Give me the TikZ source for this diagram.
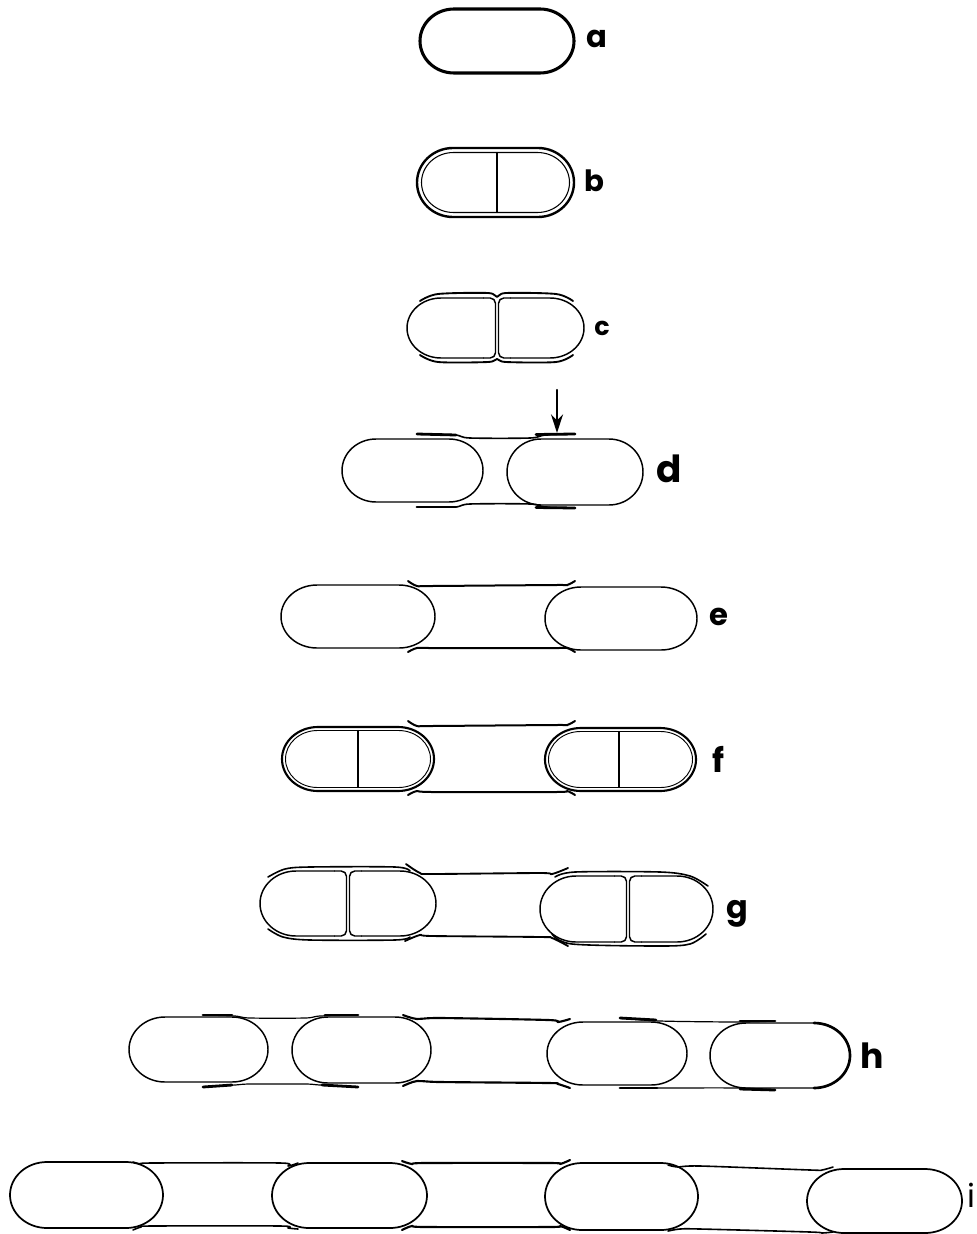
\documentclass[tikz,border=0pt]{standalone}
\usepackage{fontspec}
\newfontfamily\lblfont{Poppins}
\usetikzlibrary{arrows.meta}
% whole cell with oval ends: #1 style, #2 left x, #3 top y, #4 right x, #5 bottom y, #6 end depth
\newcommand\capsule[6][]{%
  \draw[#1] ({#2+#6},#3) -- ({#4-#6},#3)
    arc[start angle=-90, end angle=90, x radius=#6, y radius={(#5-#3)/2}]
    -- ({#2+#6},#5)
    arc[start angle=90, end angle=270, x radius=#6, y radius={(#5-#3)/2}] -- cycle;}
% left half of a dividing cell: #2 outer x, #3 inner-edge x, #4 top y, #5 bottom y, #6 end depth
\newcommand\lefthalf[6][]{%
  \draw[#1] ({#3-12},#4) -- ({#2+#6},#4)
    arc[start angle=270, end angle=90, x radius=#6, y radius={(#5-#4)/2}]
    -- ({#3-12},#5);
  \draw[#1, rounded corners=4pt] ({#3-12},#4) -- (#3,#4) -- (#3,#5) -- ({#3-12},#5);}
% right half of a dividing cell: #2 outer x, #3 inner-edge x, #4 top y, #5 bottom y, #6 end depth
\newcommand\righthalf[6][]{%
  \draw[#1] ({#3+12},#4) -- ({#2-#6},#4)
    arc[start angle=-90, end angle=90, x radius=#6, y radius={(#5-#4)/2}]
    -- ({#3+12},#5);
  \draw[#1, rounded corners=4pt] ({#3+12},#4) -- (#3,#4) -- (#3,#5) -- ({#3+12},#5);}
\begin{document}
\begin{tikzpicture}[x=0.75pt,y=-0.75pt,line cap=round,line join=round,
  cellline/.style={line width=1.1pt},
  heavycell/.style={line width=2.3pt},
  wall/.style={line width=1.2pt},
  stub/.style={line width=2.1pt},
  lbl/.style={font=\lblfont\bfseries, anchor=base west, inner sep=0pt},
  wallcurve/.style={smooth,tension=0.5}]
\useasboundingbox (0,0) rectangle (977,1234);
\clip (0,0) rectangle (977,1234);

% ---- a: single cell
\capsule[heavycell]{420}{9}{574}{73}{34}
\node[lbl, font=\lblfont\bfseries\fontsize{23}{23}\selectfont] (la) at (586,48) {a};

% ---- b: septum forming inside a double wall
\capsule[line width=1.8pt]{417}{148}{574}{217}{36}
\capsule[line width=0.8pt]{421.5}{152.5}{569.5}{212.5}{32}
\draw[line width=0.8pt] (497,152.5) -- (497,212.5);
\node[lbl, font=\lblfont\bfseries\fontsize{22}{22}\selectfont] (lb) at (584,191) {b};

% ---- c: two daughter cells inside the outer wall
\lefthalf[cellline]{407}{495.5}{298}{358}{34}
\righthalf[cellline]{584}{498.5}{298}{358}{34}
\draw[wall, line width=1.4pt] plot[wallcurve] coordinates {(420,301) (438,294) (488,293) (497,297) (506,293) (556,294) (573,301)};
\draw[wall, line width=1.4pt] plot[wallcurve] coordinates {(420,355) (438,362) (488,362) (497,359) (506,362) (556,362) (573,355)};
\node[lbl, font=\lblfont\bfseries\fontsize{19}{19}\selectfont] (lc) at (594,335) {c};

% ---- d: cells separating, arrow at the wall
\capsule[cellline]{342}{439}{483}{502}{34}
\capsule[cellline]{507}{439}{643}{505}{34}
\draw[wall] plot[wallcurve] coordinates {(417,434) (455,435) (470,438) (530,438) (545,435) (575,434)};
\draw[wall] plot[wallcurve] coordinates {(417,507) (455,507) (470,504) (530,504) (545,507) (575,508)};
\draw[stub] (417,434) -- (456,435);
\draw[stub] (536,434.5) -- (575,434);
\draw[stub] (417,507) -- (456,507);
\draw[stub] (536,507.5) -- (575,508);
\coordinate (dtail) at (557,390);
\coordinate (dhead) at (557,433);
\draw[line width=1.7pt, -{Stealth[length=14pt,width=9pt]}] (dtail) -- (dhead);
\node[lbl, font=\lblfont\bfseries\fontsize{28}{28}\selectfont] (ld) at (656,482) {d};

% ---- e
\capsule[cellline]{281}{585}{435}{648}{36}
\capsule[cellline]{545}{587}{697}{650}{36}
\draw[wall, line width=1.5pt] plot[wallcurve] coordinates {(408,581) (417,586) (432,586) (556,585) (567,585) (575,581)};
\draw[wall, line width=1.5pt] plot[wallcurve] coordinates {(408,652) (417,648) (432,648) (556,648) (567,648) (575,652)};
\node[lbl, font=\lblfont\bfseries\fontsize{23}{23}\selectfont] (le) at (709,625) {e};

% ---- f: septa forming in both cells
\capsule[line width=1.6pt]{282}{727}{434}{791}{36}
\capsule[line width=0.7pt]{285.5}{730.5}{430.5}{787.5}{32}
\draw[line width=0.8pt] (358,730.5) -- (358,787.5);
\capsule[line width=1.6pt]{545}{728}{696}{791}{36}
\capsule[line width=0.7pt]{548.5}{731.5}{692.5}{787.5}{32}
\draw[line width=0.8pt] (619,731.5) -- (619,787.5);
\draw[wall, line width=1.5pt] plot[wallcurve] coordinates {(408,721) (417,726) (432,726) (556,725) (567,725) (575,721)};
\draw[wall, line width=1.5pt] plot[wallcurve] coordinates {(408,795) (417,791) (432,792) (556,792) (567,791) (575,795)};
\node[lbl, font=\lblfont\bfseries\fontsize{25}{25}\selectfont] (lf) at (712,772) {f};

% ---- g: both cells divided
\lefthalf[cellline]{260}{346.5}{871}{936}{36}
\righthalf[cellline]{436}{349.5}{871}{936}{36}
\lefthalf[cellline]{540}{626.5}{876}{942}{36}
\righthalf[cellline]{713}{629.5}{876}{942}{36}
\draw[wall] plot[wallcurve] coordinates {(268,877) (285,869) (310,867) (395,867) (410,871)};
\draw[wall] plot[wallcurve] coordinates {(268,929) (283,937) (310,940) (395,940) (410,937)};
\draw[wall] plot[wallcurve] coordinates {(555,877) (575,872) (660,872) (690,876) (708,886)};
\draw[wall] plot[wallcurve] coordinates {(552,934) (572,944) (660,946) (690,944) (706,934)};
\draw[wall, line width=1.4pt] plot[wallcurve] coordinates {(406,864) (420,873) (432,874) (540,873) (552,874) (568,868)};
\draw[wall, line width=1.4pt] plot[wallcurve] coordinates {(405,941) (420,935) (432,936) (540,937) (552,938) (568,946)};
\node[lbl, font=\lblfont\bfseries\fontsize{24}{24}\selectfont] (lg) at (726,918) {g};

% ---- h: four cells
\capsule[cellline]{129}{1017}{268}{1082}{36}
\capsule[cellline]{292}{1017}{431}{1083}{36}
\capsule[cellline]{547}{1022}{687}{1085}{36}
\capsule[cellline]{710}{1023}{850}{1088}{36}
\draw[line width=2pt] (814,1023) arc[start angle=-90, end angle=90, x radius=36, y radius=32.5];
% walls joining cells 1 and 2
\draw[wall, line width=0.9pt] plot[wallcurve] coordinates {(203,1015) (235,1016) (250,1018) (305,1018) (320,1016) (358,1015)};
\draw[wall, line width=0.9pt] plot[wallcurve] coordinates {(203,1087) (235,1085) (250,1084) (305,1084) (320,1085) (358,1087)};
\draw[stub] (203,1015) -- (232,1015);
\draw[stub] (325,1015) -- (358,1015);
\draw[stub] (203,1087) -- (232,1085);
\draw[stub] (322,1085) -- (358,1087);
% middle wall
\draw[wall, line width=1.6pt] plot[wallcurve] coordinates {(403,1015) (417,1019) (440,1018) (548,1020) (558,1022) (570,1019)};
\draw[wall, line width=1.6pt] plot[wallcurve] coordinates {(403,1086) (417,1081) (440,1082) (548,1083) (558,1084) (570,1088)};
% walls joining cells 3 and 4
\draw[wall, line width=0.9pt] plot[wallcurve] coordinates {(620,1018) (660,1021) (740,1022) (775,1021)};
\draw[wall, line width=0.9pt] plot[wallcurve] coordinates {(620,1088) (657,1088) (740,1088) (775,1090)};
\draw[stub] (620,1018) -- (656,1020);
\draw[stub] (740,1021) -- (775,1021);
\draw[stub] (620,1088) -- (657,1088);
\draw[stub] (740,1089) -- (775,1090);
\node[lbl, font=\lblfont\bfseries\fontsize{26}{26}\selectfont] (lh) at (860,1068) {h};

% ---- i: chain of four cells
\capsule[line width=1.3pt]{10}{1162}{163}{1228}{37}
\capsule[line width=1.3pt]{272}{1163}{427}{1228}{37}
\capsule[line width=1.3pt]{545}{1163}{698}{1230}{37}
\capsule[line width=1.3pt]{807}{1169}{962}{1233}{37}
\draw[wall] plot[wallcurve] coordinates {(133,1162) (141,1164) (152,1163) (280,1163) (288,1166) (298,1163)};
\draw[wall] plot[wallcurve] coordinates {(133,1230) (141,1227) (152,1226) (280,1226) (288,1228) (298,1229)};
\draw[wall, line width=1.6pt] plot[wallcurve] coordinates {(402,1161) (412,1164) (425,1163) (550,1163) (560,1164) (570,1160)};
\draw[wall, line width=1.6pt] plot[wallcurve] coordinates {(402,1230) (412,1226) (425,1227) (550,1227) (560,1226) (570,1230)};
\draw[wall] plot[wallcurve] coordinates {(668,1165) (678,1167) (700,1166) (810,1170) (822,1170) (833,1167)};
\draw[wall] plot[wallcurve] coordinates {(668,1231) (680,1229) (700,1229) (810,1232) (822,1233) (833,1232)};
\node[lbl, font=\lblfont\fontsize{24}{24}\selectfont] (li) at (967,1207) {i};
\end{tikzpicture}
\end{document}
